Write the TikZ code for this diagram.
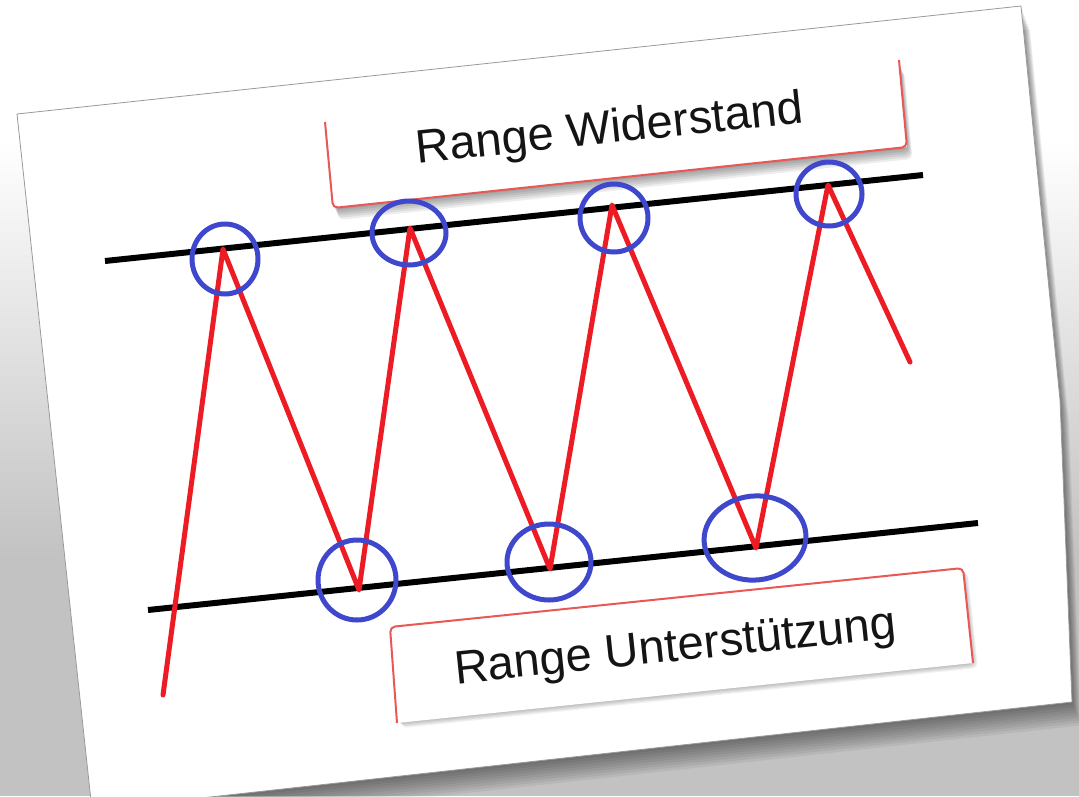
\documentclass[tikz,border=0pt]{standalone}
\usepackage{fontspec}
\setmainfont{Liberation Sans}
\definecolor{pred}{RGB}{237,28,36}
\definecolor{pblue}{RGB}{63,72,204}
\definecolor{boxred}{RGB}{232,88,84}
\tikzset{
  redline/.style={pred, line width=5, line join=round, line cap=round},
  ring/.style={pblue, line width=5},
  rangeline/.style={black, line width=6},
  labelbox/.style={boxred, line width=2, rounded corners=5},
  labeltext/.style={rotate=6, anchor=base, inner sep=0pt, font=\fontsize{47}{56}\selectfont, text=black!92},
  cardedge/.style={draw=black!40, line width=0.8, fill=white},
}
\begin{document}
\begin{tikzpicture}[x=1pt,y=-1pt]
\useasboundingbox (0,0) rectangle (1079,796);
\clip (0,0) rectangle (1079,796);
% background and ambient shadow
\fill[white] (0,0) rectangle (1079,796);
\shade[top color=white, bottom color=black!24] (0,140) rectangle (1079,560);
\fill[black!24] (0,559) rectangle (1079,796);
% card drop shadow
\foreach \i in {1,...,9} {
  \fill[black, opacity=0.055, shift={(\i*1.0,\i*2.6)}]
    (17,114) -- (1021,6) -- (1060,400) -- (1072,702) -- (92,810) -- cycle;
}
% card
\path[cardedge] (17,114) -- (1021,6) -- (1060,400) -- (1072,702) -- (92,810) -- cycle;

% top label box shadow and box
\foreach \i in {1,...,6} {
  \fill[black, opacity=0.07, shift={(\i*0.9,\i*2.0)}, rounded corners=5]
    (325,122) -- (333,208) -- (907,147) -- (899,60) -- cycle;
}
\fill[white] (325,122) -- (333,208) -- (907,147) -- (899,60) -- cycle;
\draw[labelbox] (325,122) -- (333,208) -- (907,147) -- (899,60);
\node[labeltext] (wtxt) at (611,143) {Range Widerstand};

% bottom label box shadow and box
\foreach \i in {1,...,5} {
  \fill[black, opacity=0.05, shift={(\i*1.0,\i*1.0)}, rounded corners=5]
    (397,723) -- (390,627) -- (963,568) -- (973,663) -- cycle;
}
\fill[white] (397,723) -- (390,627) -- (963,568) -- (973,663) -- cycle;
\draw[labelbox] (397,723) -- (390,627) -- (963,568) -- (973,663);
\node[labeltext] (utxt) at (677,661) {Range Unterstützung};

% range lines
\coordinate (t1) at (105,261);
\coordinate (t2) at (923,175);
\coordinate (b1) at (148,610);
\coordinate (b2) at (978,523);
\draw[rangeline] (t1) -- (t2);
\draw[rangeline] (b1) -- (b2);

% price zigzag
\coordinate (z0) at (163,695);
\coordinate (z1) at (223,249);
\coordinate (z2) at (359,590);
\coordinate (z3) at (410,228);
\coordinate (z4) at (550,569);
\coordinate (z5) at (612,205);
\coordinate (z6) at (756,548);
\coordinate (z7) at (828,185);
\coordinate (z8) at (910,362);
\draw[redline] (z0) -- (z1) -- (z2) -- (z3) -- (z4) -- (z5) -- (z6) -- (z7) -- (z8);

% touch circles
\draw[ring] (225,259) ellipse [x radius=33, y radius=35];
\draw[ring] (409,233) ellipse [x radius=37, y radius=32];
\draw[ring] (614,218) ellipse [x radius=34, y radius=34];
\draw[ring] (829,194) ellipse [x radius=33, y radius=32];
\draw[ring] (357,580) ellipse [x radius=39, y radius=40];
\draw[ring] (549,562) ellipse [x radius=42, y radius=38];
\draw[ring, rotate around={6:(755,538)}] (755,538) ellipse [x radius=51, y radius=42];
\end{tikzpicture}
\end{document}
